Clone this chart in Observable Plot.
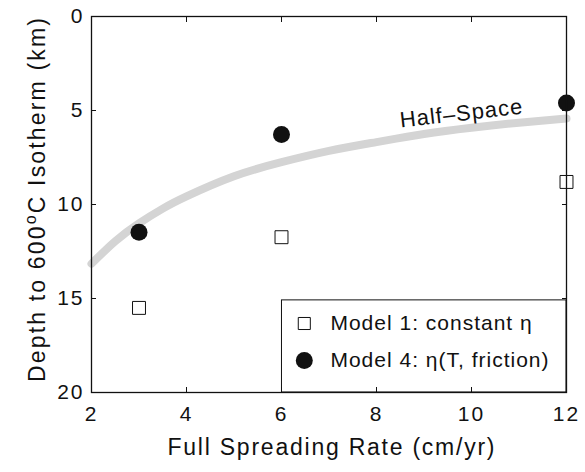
<!DOCTYPE html>
<html>
<head>
<meta charset="utf-8">
<script src="https://cdn.jsdelivr.net/npm/d3@7"></script>
<script src="https://cdn.jsdelivr.net/npm/@observablehq/plot@0.6"></script>
<style>
  html, body { margin: 0; padding: 0; background: #fff; }
  svg text { font-family: "Liberation Sans", Arial, Helvetica, sans-serif; }
  g[aria-label="x-axis tick label"] text, g[aria-label="y-axis tick label"] text { letter-spacing: 2px; }
  g[aria-label="text"] text { letter-spacing: 1px; }
</style>
</head>
<body>
<div id="chart"></div>
<script>
// Data
const rates = [3, 6, 12];                 // full spreading rate (cm/yr)
const model1Depth = [15.5, 11.74, 8.8];    // Model 1: constant eta
const model4Depth = [11.47, 6.28, 4.6];    // Model 4: eta(T, friction)
const hsRate = [2, 2.5, 3, 3.5, 4, 5, 6, 7, 8, 9, 10, 11, 12];
const hsDepth = [13.15, 11.95, 11.0, 10.22, 9.57, 8.5, 7.75, 7.15, 6.68, 6.25, 5.92, 5.65, 5.43];
const xTicks = [2, 4, 6, 8, 10, 12];
const yTicks = [0, 5, 10, 15, 20];
const legendLabels = ["Model 1: constant \u03B7", "Model 4: \u03B7(T, friction)"];
const legendRowY = [16.33, 18.3];
const legendBox = {x1: 6.01, x2: 12, y1: 15.1, y2: 20};
const curveLabel = {x: 9.79, y: 5.16, text: "Half\u2013Space"};

const model1 = rates.map((r, i) => ({rate: r, depth: model1Depth[i]}));
const model4 = rates.map((r, i) => ({rate: r, depth: model4Depth[i]}));
const halfSpace = hsRate.map((r, i) => ({rate: r, depth: hsDepth[i]}));
const legend = legendLabels.map((l, i) => ({label: l, y: legendRowY[i]}));

const plot = Plot.plot({
  width: 585,
  height: 472,
  marginLeft: 91,
  marginRight: 19,
  marginTop: 16,
  marginBottom: 80,
  style: {fontFamily: "Liberation Sans, Arial, sans-serif", color: "#111"},
  x: {domain: [2, 12]},
  y: {domain: [0, 20], reverse: true},
  marks: [
    Plot.line(halfSpace, {x: "rate", y: "depth", stroke: "#d4d4d4", strokeWidth: 8, curve: "natural"}),
    Plot.text([curveLabel], {x: "x", y: "y", text: "text", rotate: -6.5, fontSize: 22, fill: "#111"}),
    Plot.dot(model1, {x: "rate", y: "depth", symbol: "square", r: 7.3, stroke: "#111", strokeWidth: 1, fill: "white"}),
    Plot.dot(model4, {x: "rate", y: "depth", symbol: "circle", r: 8.5, fill: "#111", stroke: "none"}),
    Plot.rect([legendBox], {x1: "x1", x2: "x2", y1: "y1", y2: "y2", fill: "white", stroke: "#111", strokeWidth: 1}),
    Plot.dot([legend[0]], {x: 6.48, y: "y", symbol: "square", r: 6.8, fill: "white", stroke: "#111", strokeWidth: 1}),
    Plot.dot([legend[1]], {x: 6.48, y: "y", symbol: "circle", r: 8.5, fill: "#111", stroke: "none"}),
    Plot.text(legend, {x: 7.03, y: "y", text: "label", textAnchor: "start", fontSize: 21, fill: "#111"}),
    Plot.axisX({anchor: "bottom", ticks: xTicks, tickSize: -5, tickPadding: 19, fontSize: 21, label: null}),
    Plot.axisX({anchor: "top", ticks: xTicks, tickSize: -5, tickFormat: () => "", label: null}),
    Plot.axisY({anchor: "left", ticks: yTicks, tickSize: -5, tickPadding: 12, fontSize: 21, label: null}),
    Plot.axisY({anchor: "right", ticks: yTicks, tickSize: -5, tickFormat: () => "", label: null}),
    Plot.frame({stroke: "#111", strokeWidth: 1.3})
  ]
});

const svg = d3.select(plot);
// axis titles
svg.append("text")
  .attr("x", 331).attr("y", 455)
  .attr("text-anchor", "middle")
  .attr("font-size", 23).attr("fill", "#111")
  .attr("textLength", 327).attr("lengthAdjust", "spacing")
  .text("Full Spreading Rate (cm/yr)");

const yl = svg.append("text")
  .attr("transform", "translate(45,200) rotate(-90)")
  .attr("text-anchor", "middle")
  .attr("font-size", 23).attr("fill", "#111")
  .attr("textLength", 364).attr("lengthAdjust", "spacing");
yl.append("tspan").text("Depth to 600");
yl.append("tspan").attr("dy", -9).attr("font-size", 16).text("o");
yl.append("tspan").attr("dy", 9).text("C Isotherm (km)");

document.getElementById("chart").appendChild(plot);
</script>
</body>
</html>
